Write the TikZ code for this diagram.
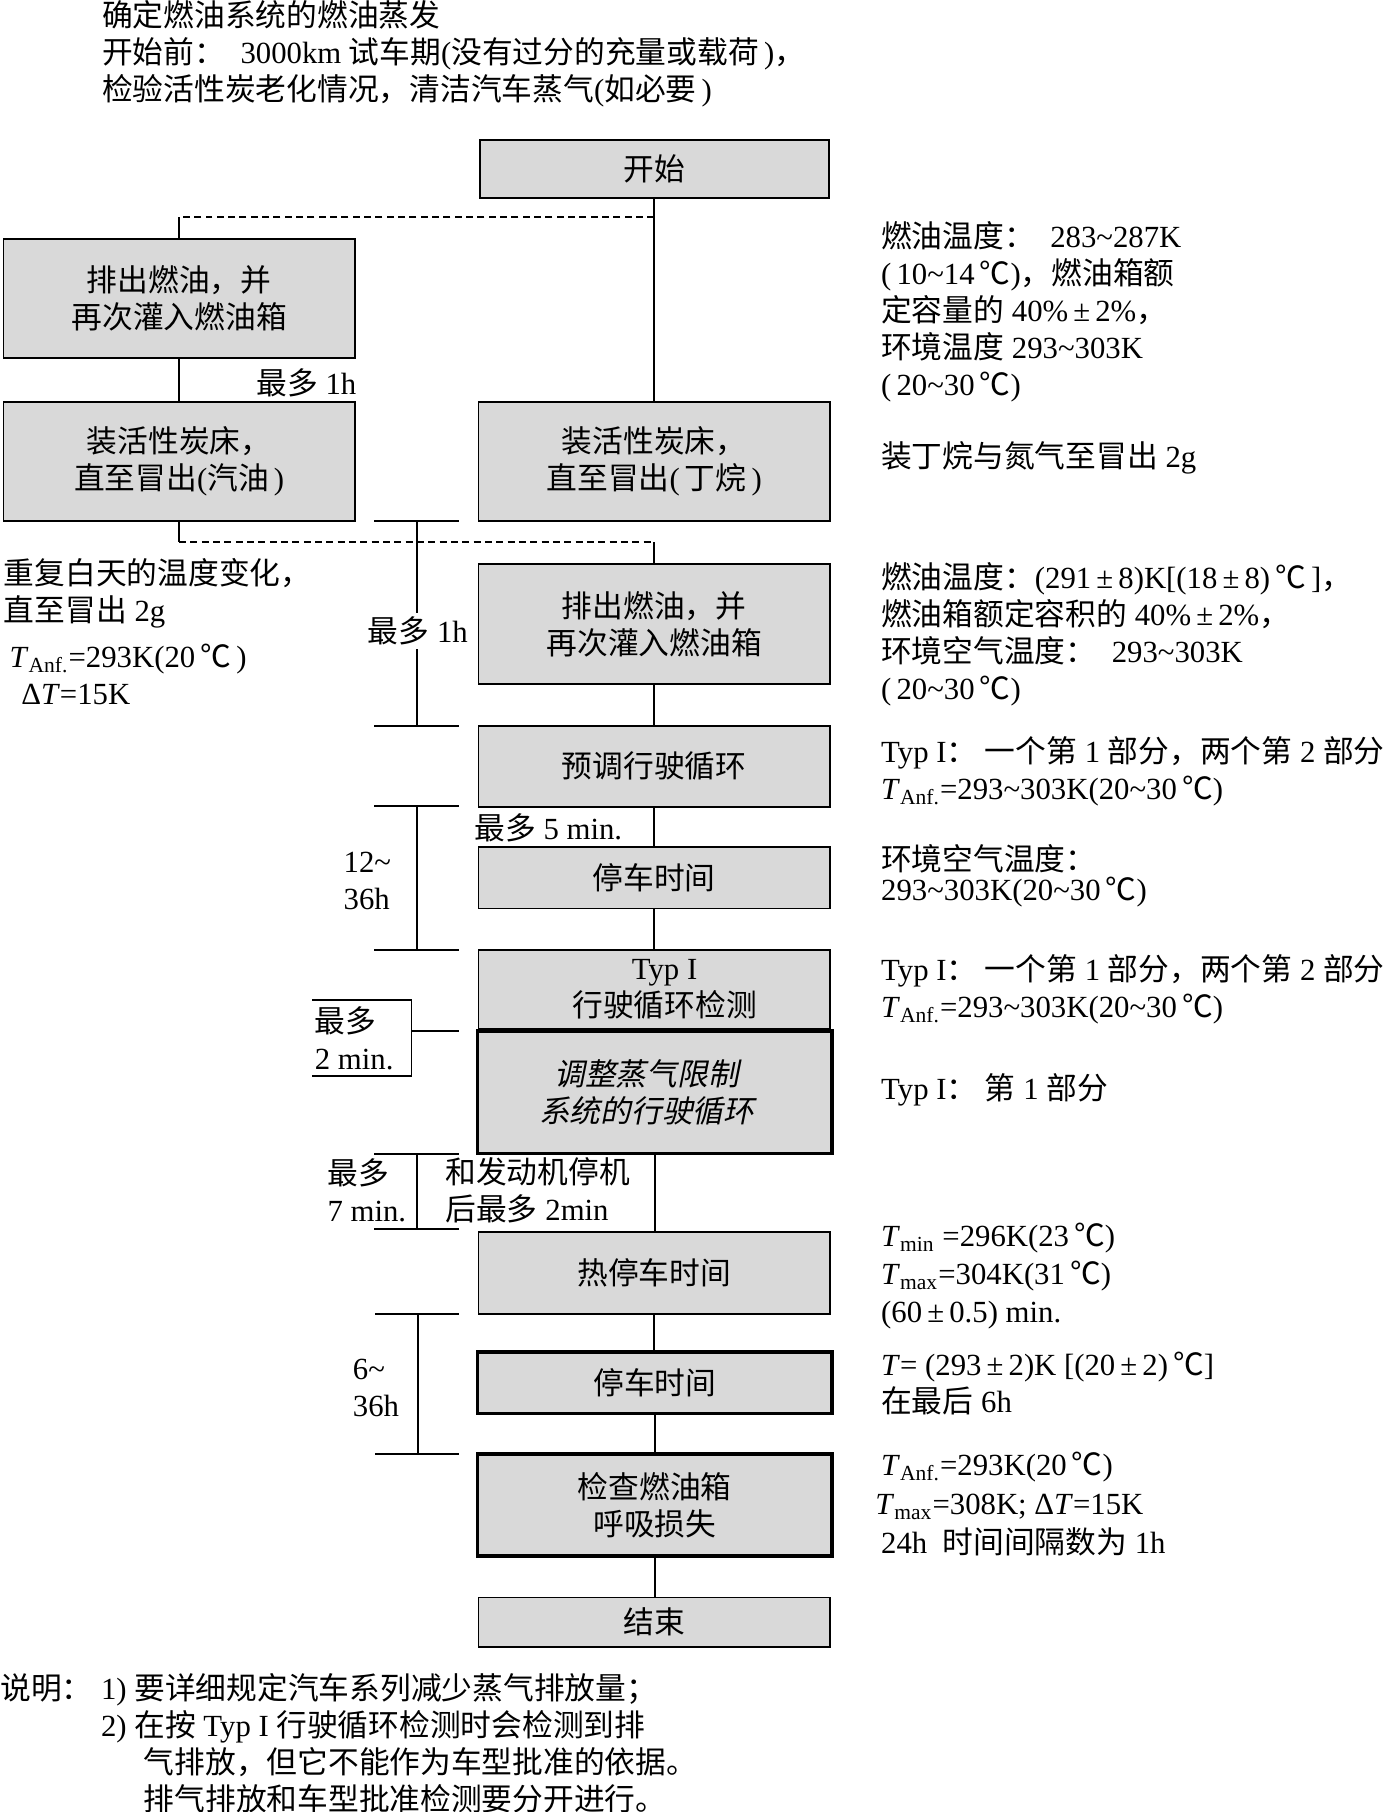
\documentclass[tikz,border=0pt]{standalone}
\usepackage{fontspec}
\setmainfont{Liberation Serif}
\newfontfamily\cjkfont{Noto Sans CJK SC}
\newfontfamily\cjkit[FakeSlant=0.2]{Noto Sans CJK SC}
% automatic switch to the CJK font for CJK characters
\XeTeXinterchartokenstate=1
\newcount\cjkc
\cjkc="4E00
\loop \XeTeXcharclass\cjkc=7 \advance\cjkc 1 \ifnum\cjkc<"A000 \repeat
\cjkc="3000
\loop \XeTeXcharclass\cjkc=7 \advance\cjkc 1 \ifnum\cjkc<"3040 \repeat
\cjkc="FF00
\loop \XeTeXcharclass\cjkc=7 \advance\cjkc 1 \ifnum\cjkc<"FFF0 \repeat
\XeTeXcharclass"2103=7
\XeTeXinterchartoks 0 7 = {\cjkfont}
\XeTeXinterchartoks 4095 7 = {\cjkfont}
\XeTeXinterchartoks 7 0 = {\rmfamily}
\XeTeXinterchartoks 7 4095 = {\rmfamily}
\newcommand\wave{\textasciitilde}
\newcommand\pmx{\,±\,}
\newcommand\fs{\fontsize{13.3pt}{16pt}\selectfont}
\newcommand\Tsub[1]{\textit{T}\textsubscript{#1}}
\definecolor{boxgray}{RGB}{217,217,217}
\begin{document}
\begin{tikzpicture}[x=0.5pt,y=-0.5pt,
  box/.style={draw, fill=boxgray, line width=0.75pt, inner sep=0pt, align=center, font=\fs},
  thickbox/.style={box, line width=1.6pt},
  lab/.style={inner sep=0pt, align=left, anchor=west, font=\fs},
  conn/.style={line width=0.75pt},
  dashconn/.style={line width=0.9pt, dash pattern=on 3pt off 1.9pt},
  tickline/.style={line width=0.8pt}]
\useasboundingbox (0,0) rectangle (1200,1567.7);

% intro text
\node[lab] (intro) at (88,46.5) {确定燃油系统的燃油蒸发\\开始前：\ \ 3000km 试车期(没有过分的充量或载荷\,)，\\检验活性炭老化情况，清洁汽车蒸气(如必要\,)};

% boxes
\node[box, minimum width=151pt, minimum height=25pt] (start) at (566,146) {开始};
\node[box, minimum width=152pt, minimum height=51.5pt] (drainL) at (155,258.5) {排出燃油，并\\再次灌入燃油箱};
\node[box, minimum width=152pt, minimum height=51.5pt] (loadL) at (155,399.5) {装活性炭床，\\直至冒出(汽油\,)};
\node[box, minimum width=152pt, minimum height=51.5pt] (loadR) at (566,399.5) {装活性炭床，\\直至冒出(\,丁烷\,)};
\node[box, minimum width=152pt, minimum height=52pt] (drainC) at (566,540) {排出燃油，并\\再次灌入燃油箱};
\node[box, minimum width=152pt, minimum height=35pt] (precond) at (566,663) {预调行驶循环};
\node[box, minimum width=152pt, minimum height=26.5pt] (park1) at (566,759.5) {停车时间};
\node[box, minimum width=152pt, minimum height=34pt] (typ) at (566,856) {\hspace*{9pt}Typ I\\\hspace*{9pt}行驶循环检测};
\node[thickbox, minimum width=153.5pt, minimum height=53pt, font=\fs\let\cjkfont\cjkit] (adjust) at (566.5,945) {调整蒸气限制\hspace*{7pt}\\系统的行驶循环\hspace*{7pt}};
\node[box, minimum width=152pt, minimum height=35.5pt] (hot) at (566,1101.5) {热停车时间};
\node[thickbox, minimum width=153.5pt, minimum height=26.5pt] (park2) at (566.5,1196.5) {停车时间};
\node[thickbox, minimum width=153.5pt, minimum height=44pt] (check) at (566.5,1302) {检查燃油箱\\呼吸损失};
\node[box, minimum width=152pt, minimum height=21.5pt] (finish) at (566,1403.5) {结束};

% connectors
\draw[conn] (start) -- (loadR);
\coordinate (d1) at (566,188);
\draw[dashconn] (d1) -- (d1 -| drainL);
\draw[conn] (d1 -| drainL) -- (drainL);
\draw[conn] (drainL) -- (loadL);
\node[lab, anchor=center] (l1h) at (265,331.5) {最多 1h};
\coordinate (d2) at (566,469);
\draw[conn] (loadL) -- (loadL |- d2);
\draw[dashconn] (loadL |- d2) -- (d2);
\draw[conn] (d2) -- (drainC);
\draw[conn] (drainC) -- (precond);
\draw[conn] (precond) -- (park1);
\node[lab] (l5m) at (410,716) {最多 5 min.};
\draw[conn] (park1) -- (typ);
\draw[conn] (adjust.south) -- (adjust.south |- hot.north);
\draw[conn] (hot.south) -- (hot.south |- park2.north);
\draw[conn] (park2.south) -- (park2.south |- check.north);
\draw[conn] (check.south) -- (check.south |- finish.north);

% time brackets
\coordinate (b1t) at (361,451);
\coordinate (b1b) at (361,628);
\draw[tickline] ([xshift=-18.5pt]b1t) -- ([xshift=18pt]b1t);
\draw[tickline] ([xshift=-18.5pt]b1b) -- ([xshift=18pt]b1b);
\draw[conn] (b1t) -- (b1b);
\node[fill=white, inner sep=1.5pt, font=\fs] (b1l) at (361.5,546) {最多 1h};

\coordinate (b2t) at (361,697.5);
\coordinate (b2b) at (361,822);
\draw[tickline] ([xshift=-18.5pt]b2t) -- ([xshift=18pt]b2t);
\draw[tickline] ([xshift=-18.5pt]b2b) -- ([xshift=18pt]b2b);
\draw[conn] (b2t) -- (b2b);
\node[lab] (b2l) at (297,762) {12\wave\\36h};

\coordinate (b3a) at (270,865);
\coordinate (b3b) at (356,865);
\coordinate (b3c) at (356,931);
\coordinate (b3d) at (270,931);
\coordinate (b3m) at (356,892);
\coordinate (b3e) at (397,892);
\draw[tickline] (b3a) -- (b3b) -- (b3c) -- (b3d);
\draw[tickline] (b3m) -- (b3e);
\node[lab] (b3l) at (272,898) {最多\\2 min.};

\coordinate (b4t) at (361,998.5);
\coordinate (b4b) at (361,1063.5);
\draw[tickline] ([xshift=-18.5pt]b4t) -- ([xshift=18pt]b4t);
\draw[tickline] ([xshift=-18.5pt]b4b) -- ([xshift=18pt]b4b);
\draw[conn] (b4t) -- (b4b);
\node[lab] (b4l) at (283,1030) {最多\\7 min.};
\node[lab] (b4r) at (385,1030) {和发动机停机\\后最多 2min};

\coordinate (b5t) at (361.5,1137);
\coordinate (b5b) at (361.5,1258);
\draw[tickline] ([xshift=-18.5pt]b5t) -- ([xshift=18pt]b5t);
\draw[tickline] ([xshift=-18.5pt]b5b) -- ([xshift=18pt]b5b);
\draw[conn] (b5t) -- (b5b);
\node[lab] (b5l) at (305,1201) {6\wave\\36h};

% left annotations
\node[lab] (L1a) at (3,513.5) {重复白天的温度变化，\\直至冒出 2g};
\node[lab] (L1b) at (8,583.5) {\Tsub{Anf.}=293K(20\,℃\,)\\\hspace*{5pt}Δ\textit{T}=15K};

% right annotations
\node[lab] (R1) at (762,269.4) {燃油温度：\ \ 283\wave287K\\(\,10\wave14\,℃)，燃油箱额\\定容量的 40\%\pmx2\%，\\环境温度 293\wave303K\\(\,20\wave30\,℃)};
\node[lab] (R2) at (762,396) {装丁烷与氮气至冒出 2g};
\node[lab] (R3) at (762,548.75) {燃油温度：(291\pmx8)K[(18\pmx8)\,℃\,]，\\燃油箱额定容积的 40\%\pmx2\%，\\环境空气温度：\ \ 293\wave303K\\(\,20\wave30\,℃)};
\node[lab] (R4) at (762,667.5) {Typ I：\ 一个第 1 部分，两个第 2 部分\\\Tsub{Anf.}=293\wave303K(20\wave30\,℃)};
\node[lab, font=\fontsize{13.3pt}{13pt}\selectfont] (R5) at (762,758) {环境空气温度：\\293\wave303K(20\wave30\,℃)};
\node[lab] (R6) at (762,856) {Typ I：\ 一个第 1 部分，两个第 2 部分\\\Tsub{Anf.}=293\wave303K(20\wave30\,℃)};
\node[lab] (R7) at (762,943) {Typ I：\ 第 1 部分};
\node[lab, font=\fontsize{13.3pt}{16.5pt}\selectfont] (R8) at (762,1104) {\Tsub{min} =296K(23\,℃)\\\Tsub{max}=304K(31\,℃)\\(60\pmx0.5) min.};
\node[lab] (R9) at (762,1197) {\textit{T}= (293\pmx2)K [(20\pmx2)\,℃]\\在最后 6h};
\node[lab, font=\fontsize{13.3pt}{16.7pt}\selectfont] (R10) at (762,1301.3) {\Tsub{Anf.}=293K(20\,℃)\\\hspace*{-2.5pt}\Tsub{max}=308K; Δ\textit{T}=15K\\24h\ \ 时间间隔数为 1h};

% notes
\node[lab] (noteh) at (0,1460) {说明：};
\node[lab] (notes) at (87,1508) {1) 要详细规定汽车系列减少蒸气排放量；\\2) 在按 Typ I 行驶循环检测时会检测到排\\\hspace*{18.5pt}气排放，但它不能作为车型批准的依据。\\\hspace*{18.5pt}排气排放和车型批准检测要分开进行。};
\end{tikzpicture}
\end{document}
